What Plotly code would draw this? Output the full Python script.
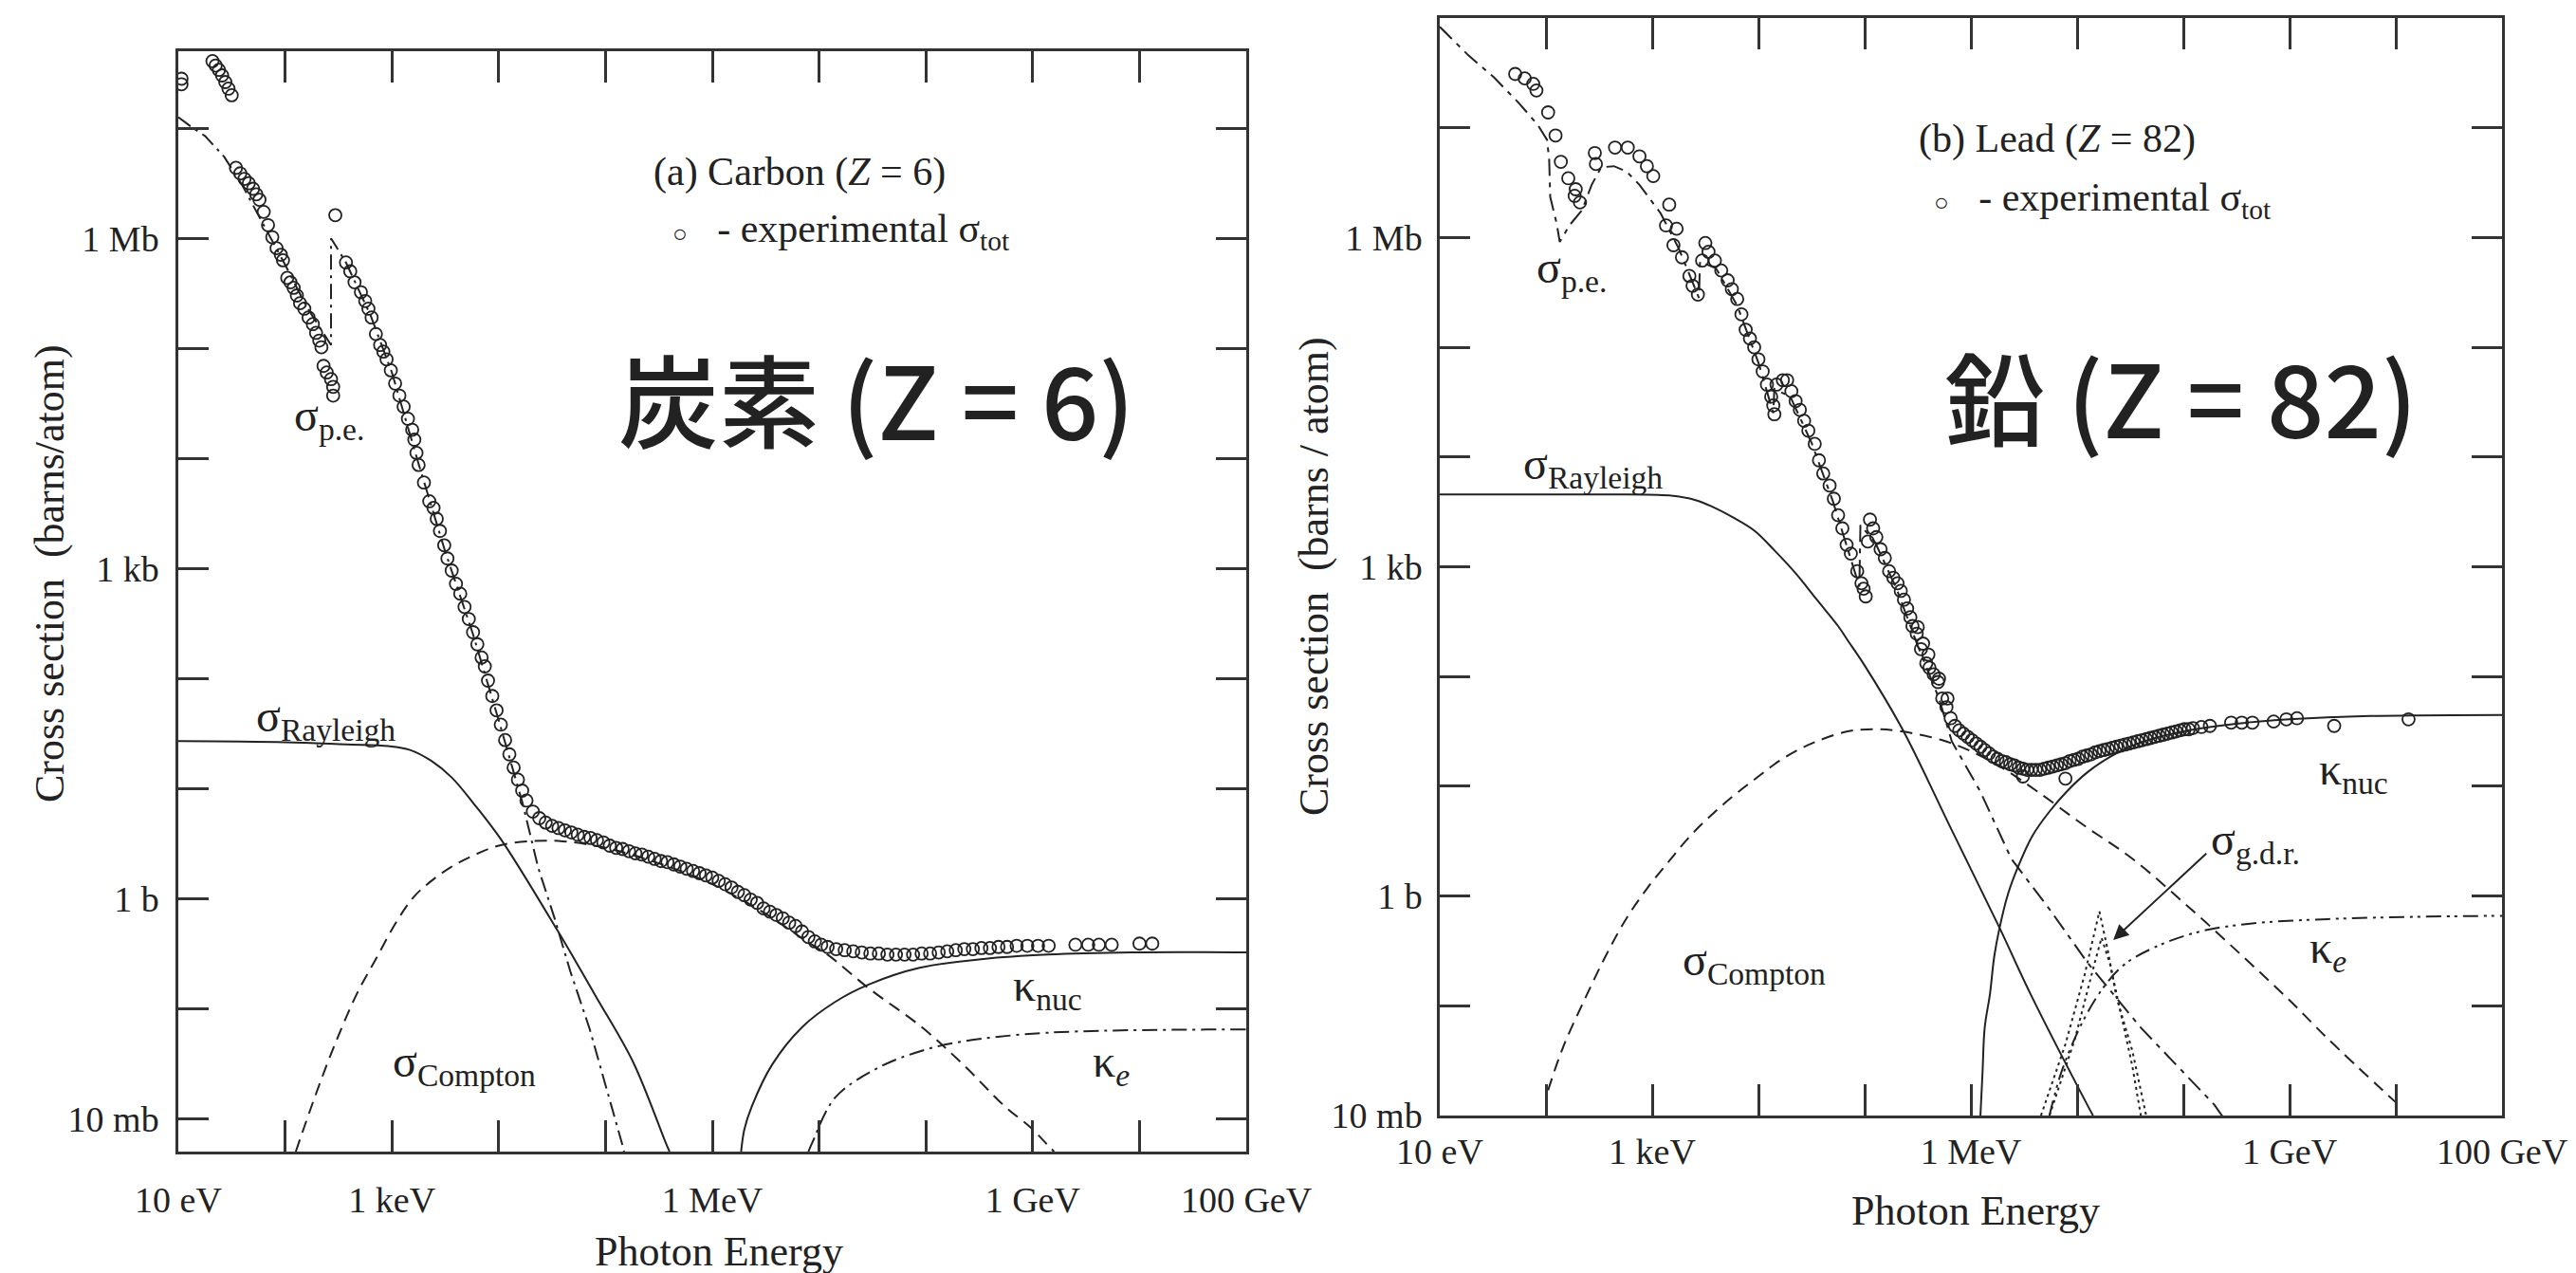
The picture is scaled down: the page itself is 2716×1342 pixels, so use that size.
import plotly.graph_objects as go

W, H = 2716, 1342

# ---------------- axis ticks ----------------
x_tick_exp = list(range(1, 12))
x_label_exp = [1, 3, 6, 9, 11]
x_label_text = ["10 eV", "1 keV", "1 MeV", "1 GeV", "100 GeV"]
y_tick_exp = list(range(-2, 8))
y_label_exp = [-2, 0, 3, 6]
y_label_text = ["10 mb", "1 b", "1 kb", "1 Mb"]

# ---------------- data: log10(E / eV), log10(sigma / barn) ----------------
# (a) Carbon
carbon_exp_logE = [1.03, 1.03, 1.32, 1.35, 1.38, 1.41, 1.44, 1.47, 1.50,
    1.54, 1.58, 1.62, 1.66, 1.70, 1.73, 1.76, 1.80, 1.84, 1.88, 1.92, 1.96, 1.98, 2.02, 2.05, 2.08,
    2.11, 2.14, 2.18, 2.22, 2.26, 2.29, 2.32, 2.34, 2.36, 2.39, 2.43, 2.45, 2.45, 2.47,
    2.57, 2.61, 2.65, 2.71, 2.75, 2.78, 2.81, 2.85, 2.89, 2.92, 2.95, 2.99, 3.03, 3.07, 3.11, 3.15,
    3.19, 3.21, 3.23, 3.25, 3.30, 3.35, 3.39, 3.42, 3.45, 3.49, 3.52, 3.56, 3.60, 3.64, 3.68, 3.72,
    3.76, 3.80, 3.84, 3.87, 3.90, 3.94, 3.98, 4.02, 4.06, 4.10, 4.14, 4.18, 4.22, 4.26, 4.32, 4.38,
    4.44, 4.50, 4.56, 4.62, 4.68, 4.74, 4.80, 4.86, 4.92, 4.98, 5.04, 5.10, 5.16, 5.22, 5.28, 5.34,
    5.40, 5.46, 5.52, 5.58, 5.64, 5.70, 5.76, 5.82, 5.88, 5.94, 6.00, 6.06, 6.12, 6.18, 6.24, 6.30,
    6.36, 6.42, 6.48, 6.54, 6.60, 6.66, 6.72, 6.78, 6.84, 6.90, 6.96, 7.02, 7.08, 7.16, 7.24, 7.32,
    7.40, 7.48, 7.56, 7.64, 7.72, 7.80, 7.88, 7.96, 8.04, 8.12, 8.20, 8.28, 8.36, 8.44, 8.52, 8.60,
    8.68, 8.76, 8.85, 8.95, 9.05, 9.15, 9.40, 9.52, 9.62, 9.74, 10.00, 10.12]
carbon_exp_logS = [7.45, 7.40, 7.61, 7.57, 7.53, 7.48, 7.42, 7.36, 7.30,
    6.64, 6.59, 6.54, 6.50, 6.45, 6.40, 6.35, 6.24, 6.12, 6.01, 5.91, 5.85, 5.80, 5.64, 5.60, 5.55,
    5.48, 5.41, 5.36, 5.28, 5.22, 5.14, 5.07, 5.01, 4.84, 4.78, 4.72, 4.65, 4.57, 6.21,
    5.78, 5.70, 5.60, 5.51, 5.43, 5.36, 5.28, 5.13, 5.03, 4.97, 4.90, 4.80, 4.68, 4.57, 4.47, 4.36,
    4.26, 4.17, 4.05, 3.94, 3.78, 3.61, 3.55, 3.45, 3.34, 3.21, 3.09, 2.98, 2.86, 2.77, 2.65, 2.54,
    2.42, 2.31, 2.19, 2.11, 1.98, 1.84, 1.71, 1.58, 1.44, 1.31, 1.19, 1.08, 0.98, 0.89, 0.79, 0.73,
    0.69, 0.66, 0.64, 0.62, 0.60, 0.58, 0.56, 0.55, 0.53, 0.51, 0.48, 0.46, 0.45, 0.43, 0.41, 0.40,
    0.38, 0.36, 0.34, 0.33, 0.31, 0.29, 0.27, 0.25, 0.23, 0.21, 0.19, 0.16, 0.13, 0.10, 0.06, 0.03,
    -0.01, -0.04, -0.09, -0.12, -0.15, -0.18, -0.22, -0.25, -0.30, -0.35, -0.39, -0.42, -0.44, -0.46, -0.47, -0.48,
    -0.49, -0.50, -0.50, -0.51, -0.51, -0.51, -0.51, -0.50, -0.50, -0.49, -0.48, -0.47, -0.46, -0.46, -0.45, -0.45,
    -0.44, -0.44, -0.43, -0.43, -0.43, -0.43, -0.42, -0.42, -0.42, -0.42, -0.41, -0.41]

carbon_pe_logE = [1.0, 1.14, 1.25, 1.43, 1.6, 1.8, 2.0, 2.2, 2.43, 2.43, 2.57, 2.8, 3.0, 3.25, 3.5,
                  3.76, 4.0, 4.22, 4.37, 4.52, 4.67, 4.85, 5.0, 5.15, 5.2]
carbon_pe_logS = [7.1, 7.0, 6.93, 6.74, 6.48, 6.12, 5.76, 5.38, 5.03, 6.0, 5.78, 5.3, 4.78, 3.95, 3.15,
                  2.4, 1.62, 0.88, 0.28, -0.17, -0.66, -1.18, -1.69, -2.21, -2.4]

carbon_ray_logE = [1.0, 2.0, 2.57, 2.97, 3.17, 3.37, 3.56, 3.76, 4.02, 4.55, 4.91, 5.26, 5.56, 5.6]
carbon_ray_logS = [1.43, 1.42, 1.40, 1.385, 1.35, 1.25, 1.10, 0.87, 0.54, -0.29, -0.89, -1.49, -2.21, -2.3]

carbon_compton_logE = [2.10, 2.28, 2.46, 2.67, 2.85, 3.05, 3.21, 3.37, 3.56, 3.76, 4.0, 4.28, 4.6, 5.0,
                       5.5, 6.0, 6.5, 6.9, 7.08, 7.47, 7.95, 8.35, 8.74, 8.98, 9.14, 9.2]
carbon_compton_logS = [-2.3, -1.80, -1.34, -0.87, -0.55, -0.20, 0.02, 0.16, 0.29, 0.39, 0.48, 0.52, 0.52,
                       0.46, 0.32, 0.13, -0.14, -0.40, -0.51, -0.82, -1.16, -1.51, -1.89, -2.08, -2.24, -2.3]

carbon_knuc_logE = [6.27, 6.30, 6.37, 6.56, 6.84, 7.15, 7.47, 7.94, 8.54, 9.14, 9.93, 11.0]
carbon_knuc_logS = [-2.3, -2.1, -1.89, -1.51, -1.17, -0.94, -0.78, -0.63, -0.55, -0.51, -0.49, -0.49]

carbon_ke_logE = [6.9, 6.94, 7.15, 7.55, 7.94, 8.34, 9.14, 11.0]
carbon_ke_logS = [-2.3, -2.21, -1.81, -1.54, -1.39, -1.30, -1.22, -1.19]

# (b) Lead
lead_exp_logE = [1.71, 1.80, 1.88, 1.91, 2.02, 2.09, 2.14, 2.21, 2.27, 2.28, 2.32, 2.46, 2.47, 2.65, 2.77,
    2.88, 2.95, 3.01, 3.16, 3.13, 3.23, 3.20, 3.28, 3.35, 3.38, 3.43, 3.47, 3.50, 3.53, 3.59, 3.65,
    3.71, 3.75, 3.80, 3.84, 3.88, 3.92, 3.96, 4.00, 4.04, 4.08, 4.12, 4.14, 4.15, 4.17, 4.23, 4.27,
    4.31, 4.35, 4.39, 4.43, 4.47, 4.53, 4.57, 4.61, 4.67, 4.71, 4.75, 4.79, 4.83, 4.87, 4.93, 4.97,
    4.99, 5.01, 5.03, 5.05, 5.08, 5.11, 5.15, 5.19, 5.23, 5.27, 5.31, 5.34, 5.37, 5.40, 5.43, 5.45,
    5.49, 5.50, 5.53, 5.55, 5.58, 5.60, 5.61, 5.65, 5.69, 5.70, 5.73, 5.77, 5.78, 5.81, 5.85, 5.89,
    5.93, 5.97, 6.01, 6.05, 6.09, 6.13, 6.17, 6.21, 6.25, 6.29, 6.33, 6.37, 6.41, 6.45, 6.49, 6.53,
    6.57, 6.61, 6.65, 6.69, 6.73, 6.77, 6.81, 6.85, 6.89, 6.93, 6.97, 7.01, 7.05, 7.09, 7.13, 7.17,
    7.21, 7.25, 7.29, 7.33, 7.37, 7.41, 7.45, 7.49, 7.53, 7.57, 7.61, 7.65, 7.69, 7.73, 7.77, 7.81,
    7.85, 7.89, 7.93, 7.97, 8.01, 8.05, 8.09, 8.17, 8.25, 8.45, 8.55, 8.65, 8.85, 8.97, 9.07, 9.42,
    10.12, 6.49, 6.89]
lead_exp_logS = [7.49, 7.45, 7.40, 7.34, 7.14, 6.93, 6.69, 6.54, 6.38, 6.44, 6.32, 6.77, 6.67, 6.82, 6.82,
    6.74, 6.65, 6.56, 6.30, 6.11, 6.08, 5.93, 5.82, 5.65, 5.56, 5.48, 5.79, 5.95, 5.87, 5.79, 5.70,
    5.61, 5.53, 5.44, 5.30, 5.16, 5.08, 5.00, 4.89, 4.78, 4.66, 4.55, 4.47, 4.39, 4.66, 4.70, 4.70,
    4.60, 4.51, 4.43, 4.33, 4.24, 4.12, 3.97, 3.85, 3.74, 3.62, 3.47, 3.35, 3.20, 3.12, 2.96, 2.85,
    2.80, 2.73, 3.23, 3.43, 3.35, 3.27, 3.16, 3.08, 2.96, 2.90, 2.85, 2.78, 2.70, 2.62, 2.54, 2.46,
    2.39, 2.45, 2.25, 2.30, 2.12, 2.20, 2.08, 2.02, 1.95, 1.98, 1.80, 1.72, 1.80, 1.62, 1.55, 1.51,
    1.48, 1.45, 1.42, 1.39, 1.36, 1.33, 1.30, 1.27, 1.25, 1.23, 1.22, 1.20, 1.19, 1.17, 1.16, 1.15,
    1.15, 1.15, 1.15, 1.16, 1.17, 1.18, 1.19, 1.20, 1.21, 1.23, 1.24, 1.25, 1.27, 1.28, 1.29, 1.31,
    1.32, 1.33, 1.34, 1.35, 1.36, 1.37, 1.38, 1.39, 1.40, 1.41, 1.42, 1.43, 1.44, 1.45, 1.46, 1.47,
    1.48, 1.49, 1.50, 1.51, 1.52, 1.52, 1.53, 1.54, 1.55, 1.58, 1.58, 1.58, 1.59, 1.61, 1.62, 1.55,
    1.61, 1.09, 1.07]

lead_pe_logE = [1.0, 1.27, 1.51, 1.74, 1.92, 2.01, 2.03, 2.04, 2.10, 2.13, 2.22, 2.34, 2.43, 2.52, 2.64,
                2.76, 2.88, 2.99, 3.08, 3.25, 3.44, 3.45, 3.60, 3.80, 4.00, 4.14, 4.15, 4.30, 4.50, 4.70,
                4.95, 4.96, 5.10, 5.30, 5.50, 5.70, 5.82, 6.09, 6.38, 6.74, 7.10, 7.60, 8.29, 8.4]
lead_pe_logS = [7.92, 7.66, 7.46, 7.23, 7.03, 6.89, 6.71, 6.37, 6.13, 5.96, 6.11, 6.25, 6.48, 6.64, 6.65,
                6.60, 6.48, 6.34, 6.22, 5.90, 5.45, 5.78, 5.72, 5.38, 4.86, 4.40, 4.62, 4.55, 4.13, 3.60,
                2.82, 3.38, 3.22, 2.80, 2.28, 1.80, 1.41, 0.95, 0.34, -0.12, -0.61, -1.20, -1.90, -2.05]

lead_ray_logE = [1.0, 2.5, 3.16, 3.40, 3.56, 3.76, 3.96, 4.15, 4.36, 4.55, 4.75, 4.84, 5.0, 5.35,
                 5.82, 6.27, 6.56, 7.10, 7.15]
lead_ray_logS = [3.66, 3.66, 3.65, 3.61, 3.55, 3.45, 3.33, 3.15, 2.93, 2.70, 2.46, 2.33, 2.10, 1.53,
                 0.60, -0.29, -0.89, -1.91, -2.0]

lead_compton_logE = [2.02, 2.16, 2.36, 2.56, 2.76, 2.96, 3.16, 3.36, 3.56, 3.76, 3.96, 4.15, 4.35, 4.55,
                     4.84, 5.10, 5.35, 5.73, 6.0, 6.29, 6.63, 7.07, 7.52, 8.05, 8.56, 9.0, 9.36, 10.0]
lead_compton_logS = [-1.77, -1.38, -0.95, -0.55, -0.20, 0.08, 0.32, 0.55, 0.74, 0.91, 1.06, 1.20, 1.32, 1.41,
                     1.50, 1.52, 1.50, 1.42, 1.32, 1.17, 0.95, 0.64, 0.34, -0.10, -0.55, -0.95, -1.30, -1.88]

lead_knuc_logE = [6.09, 6.11, 6.13, 6.18, 6.22, 6.27, 6.35, 6.45, 6.58, 6.74, 6.90, 7.10, 7.37, 7.6,
                  8.0, 8.5, 9.0, 9.76, 11.0]
lead_knuc_logS = [-2.0, -1.6, -1.2, -0.89, -0.55, -0.29, 0.02, 0.28, 0.55, 0.77, 0.95, 1.13, 1.30, 1.40,
                  1.50, 1.57, 1.61, 1.64, 1.65]

lead_ke_logE = [6.74, 6.85, 7.05, 7.25, 7.45, 7.77, 8.17, 8.65, 9.36, 10.16, 11.0]
lead_ke_logS = [-2.0, -1.61, -1.15, -0.83, -0.62, -0.45, -0.32, -0.25, -0.21, -0.19, -0.18]

lead_gdr1_logE = [6.66, 6.89, 7.07, 7.21, 7.29, 7.37, 7.52, 7.65]
lead_gdr1_logS = [-2.0, -1.35, -0.72, -0.14, -0.50, -0.92, -1.41, -2.0]
lead_gdr2_logE = [6.74, 6.98, 7.16, 7.23, 7.31, 7.40, 7.52, 7.60]
lead_gdr2_logS = [-2.0, -1.30, -0.63, -0.38, -0.62, -1.02, -1.55, -2.0]


def lin(v):
    return [10 ** a for a in v]


INK = "#222222"
SERIF = "Liberation Serif"
DASH = "13px,8px"
DASHDOT = "16px,6px,3px,6px"
DASHLONG = "18px,7px,5px,7px"
DASHDOTDOT = "16px,6px,3px,5px,3px,6px"
DOT = "3px,4px"

fig = go.Figure()


def add_line(xs, ys, dash, ax, shape="linear"):
    fig.add_trace(go.Scatter(x=lin(xs), y=lin(ys), mode="lines",
                             line=dict(color=INK, width=2, dash=dash, shape=shape),
                             xaxis="x" if ax == 1 else "x2", yaxis="y" if ax == 1 else "y2",
                             showlegend=False, hoverinfo="skip"))


def add_exp(xs, ys, ax):
    fig.add_trace(go.Scatter(x=lin(xs), y=lin(ys), mode="markers",
                             marker=dict(symbol="circle-open", size=13, color=INK, line=dict(width=1.8)),
                             xaxis="x" if ax == 1 else "x2", yaxis="y" if ax == 1 else "y2",
                             showlegend=False, hoverinfo="skip"))


# carbon
add_line(carbon_pe_logE, carbon_pe_logS, DASHDOT, 1)
add_line(carbon_ray_logE, carbon_ray_logS, "solid", 1, "spline")
add_line(carbon_compton_logE, carbon_compton_logS, DASH, 1, "spline")
add_line(carbon_knuc_logE, carbon_knuc_logS, "solid", 1, "spline")
add_line(carbon_ke_logE, carbon_ke_logS, DASHDOT, 1, "spline")
add_exp(carbon_exp_logE, carbon_exp_logS, 1)
# lead
add_line(lead_pe_logE, lead_pe_logS, DASHLONG, 2)
add_line(lead_ray_logE, lead_ray_logS, "solid", 2, "spline")
add_line(lead_compton_logE, lead_compton_logS, DASH, 2, "spline")
add_line(lead_knuc_logE, lead_knuc_logS, "solid", 2, "spline")
add_line(lead_ke_logE, lead_ke_logS, DASHDOTDOT, 2, "spline")
add_line(lead_gdr1_logE, lead_gdr1_logS, DOT, 2)
add_line(lead_gdr2_logE, lead_gdr2_logS, DOT, 2)
add_exp(lead_exp_logE, lead_exp_logS, 2)


def xaxis_style(dom, anchor, standoff):
    return dict(type="log", range=[1, 11], domain=dom, anchor=anchor,
                tickmode="array", tickvals=lin(x_label_exp), ticktext=x_label_text,
                ticks="inside", ticklen=33, tickwidth=2.5, tickcolor="#333",
                minor=dict(tickmode="array", tickvals=lin(x_tick_exp), ticks="inside", ticklen=33,
                           tickwidth=2.5, tickcolor="#333", showgrid=False),
                showline=True, linecolor="#333", linewidth=2.5, mirror="ticks",
                showgrid=False, zeroline=False, automargin=False,
                tickfont=dict(family=SERIF, size=38, color=INK), ticklabelstandoff=standoff)


def yaxis_style(dom, anchor, rng, standoff):
    return dict(type="log", range=rng, domain=dom, anchor=anchor,
                tickmode="array", tickvals=lin(y_label_exp), ticktext=y_label_text,
                ticks="inside", ticklen=32, tickwidth=2.5, tickcolor="#333",
                minor=dict(tickmode="array", tickvals=lin(y_tick_exp), ticks="inside", ticklen=32,
                           tickwidth=2.5, tickcolor="#333", showgrid=False),
                showline=True, linecolor="#333", linewidth=2.5, mirror="ticks",
                showgrid=False, zeroline=False, automargin=False,
                tickfont=dict(family=SERIF, size=38, color=INK), ticklabelstandoff=standoff)


def P(px, py):
    return px / W, 1 - py / H


anns = []


def paper_text(px, py, text, size, family=SERIF, xanchor="center", yanchor="middle", angle=0, weight=None):
    x, y = P(px, py)
    font = dict(family=family, size=size, color=INK)
    if weight:
        font["weight"] = weight
    anns.append(dict(x=x, y=y, xref="paper", yref="paper", text=text, showarrow=False,
                     xanchor=xanchor, yanchor=yanchor, textangle=angle, font=font))


def data_text(ax, x, y, text, size=48):
    anns.append(dict(x=x, y=y, xref="x" if ax == 1 else "x2", yref="y" if ax == 1 else "y2",
                     text=text, showarrow=False, xanchor="center", yanchor="middle",
                     font=dict(family=SERIF, size=size, color=INK)))


# axis titles
paper_text(44, 597, "Cross section  (barns/atom)", 44, angle=-90)
paper_text(1377, 600, "Cross section  (barns / atom)", 44, angle=-90)
paper_text(750, 1311, "Photon Energy", 44)
paper_text(2075, 1268, "Photon Energy", 44)

# panel headers
paper_text(679, 173, "(a) Carbon (<i>Z</i> = 6)", 42, xanchor="left")
paper_text(699, 236, "<span style='font-size:26px'>○</span>   - experimental σ<sub>tot</sub>", 42, xanchor="left")
paper_text(2013, 138, "(b) Lead (<i>Z</i> = 82)", 42, xanchor="left")
paper_text(2029, 203, "<span style='font-size:26px'>○</span>   - experimental σ<sub>tot</sub>", 42, xanchor="left")

# large Japanese captions
paper_text(916, 410, "炭素 (Z = 6)", 106, family="Noto Sans CJK JP", weight=500)
paper_text(2291, 408, "鉛 (Z = 82)", 106, family="Noto Sans CJK JP", weight=500)

# curve labels (log10 coordinates)
data_text(1, 2.41, 4.36, "σ<sub>p.e.</sub>")
data_text(1, 2.38, 1.63, "σ<sub>Rayleigh</sub>")
data_text(1, 3.68, -1.51, "σ<sub>Compton</sub>")
data_text(1, 9.14, -0.82, "κ<sub>nuc</sub>")
data_text(1, 9.73, -1.51, "κ<sub><i>e</i></sub>")

data_text(2, 2.24, 5.70, "σ<sub>p.e.</sub>")
data_text(2, 2.44, 3.91, "σ<sub>Rayleigh</sub>")
data_text(2, 3.96, -0.61, "σ<sub>Compton</sub>")
data_text(2, 9.60, 1.13, "κ<sub>nuc</sub>")
data_text(2, 8.68, 0.49, "σ<sub>g.d.r.</sub>")
data_text(2, 9.36, -0.50, "κ<sub><i>e</i></sub>")

# arrow to giant dipole resonance
anns.append(dict(x=7.34, y=-0.40, xref="x2", yref="y2", ax=8.23, ay=0.40, axref="x2", ayref="y2",
                 text="", showarrow=True, arrowhead=2, arrowsize=1.6, arrowwidth=2, arrowcolor=INK))

fig.update_layout(
    width=W, height=H, template="none",
    margin=dict(l=0, r=0, t=0, b=0, pad=0),
    paper_bgcolor="white", plot_bgcolor="white", showlegend=False,
    xaxis=xaxis_style([180 / W, 1306 / W], "y", 16),
    yaxis=yaxis_style([1 - 1206 / H, 1 - 46 / H], "x", [-2.3, 7.7], 10),
    xaxis2=xaxis_style([1510 / W, 2630 / W], "y2", 3),
    yaxis2=yaxis_style([1 - 1168 / H, 1 - 11 / H], "x2", [-2, 8], 8),
    annotations=anns,
)

fig.write_html("out.html")
